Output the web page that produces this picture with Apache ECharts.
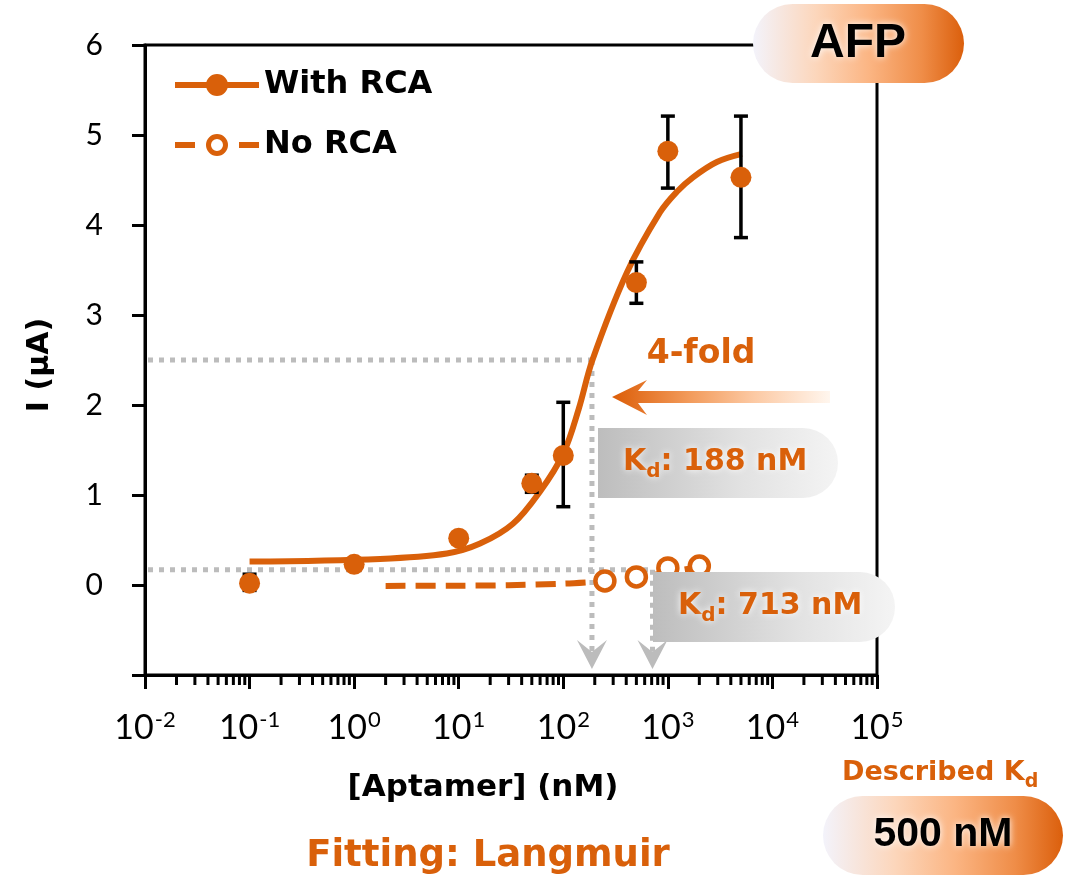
<!DOCTYPE html>
<html><head><meta charset="utf-8">
<script src="https://cdn.jsdelivr.net/npm/echarts@6/dist/echarts.min.js"></script>
<style>html,body{margin:0;padding:0;background:#fff}#c{width:1068px;height:879px}</style>
</head><body><div id="c"></div>
<script>
const ORANGE = '#d9600a';
const GREY = '#bcbcbc';
const TXT = 'DejaVu Sans';

// axis ticks
const xTickExponents = [-2, -1, 0, 1, 2, 3, 4, 5];
const yTickLabels = [0, 1, 2, 3, 4, 5, 6];

// With RCA measured points (nM, µA) and error bars
const withRcaConc = [0.1, 1, 10, 50, 100, 500, 1000, 5000];
const withRcaCurrent = [0.02, 0.23, 0.52, 1.13, 1.44, 3.36, 4.82, 4.53];
const errConc = [0.1, 50, 100, 500, 1000, 5000];
const errLow = [-0.06, 1.03, 0.87, 3.13, 4.41, 3.86];
const errHigh = [0.12, 1.22, 2.03, 3.59, 5.21, 5.21];

// No RCA measured points
const noRcaConc = [250, 500, 1000, 2000];
const noRcaCurrent = [0.045, 0.09, 0.19, 0.21];

// Langmuir fit curves
const withFitConc = [0.1, 1.77, 7.7, 16, 33, 60, 100, 140, 190, 405, 840, 1220, 1740, 2940, 5100];
const withFitCurrent = [0.26, 0.29, 0.35, 0.46, 0.68, 1.04, 1.46, 1.95, 2.50, 3.47, 4.14, 4.37, 4.53, 4.70, 4.79];
const noFitConc = [2, 10, 30, 100, 200, 300, 500, 1000, 2000];
const noFitCurrent = [-0.01, -0.008, -0.002, 0.015, 0.035, 0.05, 0.08, 0.14, 0.2];

// Kd guides
const kdValues = [188, 713];
const kdLevels = [2.5, 0.17];

// minor ticks of the log axis (2..9 per decade)
const minorTicks = [];
for (let e = -2; e < 5; e++) for (let m = 2; m <= 9; m++) minorTicks.push([m * Math.pow(10, e), -1]);

const zip = (a, b) => a.map((v, i) => [v, b[i]]);

// legend icons (84 x 22 box): line + filled circle / dashes + ring
const ICON_WITH = 'path://M0,8 L84,8 L84,14 L0,14 Z M31,11 a11,11 0 1,1 22,0 a11,11 0 1,1 -22,0 Z';
const ICON_NO = 'path://M0,8 L20,8 L20,14 L0,14 Z M64,8 L84,8 L84,14 L64,14 Z ' +
  'M31,11 a11,11 0 1,1 22,0 a11,11 0 1,1 -22,0 Z M36,11 a6,6 0 1,0 12,0 a6,6 0 1,0 -12,0 Z';

const chart = echarts.init(document.getElementById('c'));
const grad = (stops) => ({type: 'linear', x: 0, y: 0, x2: 1, y2: 0, colorStops: stops.map(s => ({offset: s[0], color: s[1]}))});
const pillGrad = grad([[0, '#f3f3fb'], [0.3, '#fcd6bb'], [0.55, '#fbb583'], [0.8, '#ef8d48'], [1, '#db5f0c']]);
const boxGrad = grad([[0, '#bdbdbd'], [0.6, '#e2e2e2'], [1, '#f4f4f4']]);
const glowW = {textShadowColor: 'rgba(255,255,255,1)', textShadowBlur: 7};

chart.setOption({
  animation: false,
  backgroundColor: '#fff',
  grid: {left: 145, top: 45, width: 732, height: 630, show: true, borderColor: '#000', borderWidth: 3,
         backgroundColor: 'transparent', containLabel: false, outerBoundsMode: 'none'},
  legend: {
    left: 170, top: 61, orient: 'vertical', itemWidth: 84, itemHeight: 22, itemGap: 22,
    data: [
      {name: 'With RCA', icon: ICON_WITH, itemStyle: {color: ORANGE, borderWidth: 0}},
      {name: 'No RCA', icon: ICON_NO, itemStyle: {color: ORANGE, borderWidth: 0}}
    ],
    itemStyle: {color: ORANGE, borderWidth: 0},
    textStyle: {fontFamily: TXT, fontWeight: 'bold', fontSize: 32, color: '#000', lineHeight: 38, padding: [0, 0, 0, 0]}
  },
  xAxis: {
    type: 'log', logBase: 10, min: 0.01, max: 100000, splitNumber: 7,
    axisLine: {onZero: false, lineStyle: {color: '#000', width: 3}},
    axisTick: {inside: false, length: 14, lineStyle: {color: '#000', width: 3}},
    splitLine: {show: false}, minorTick: {show: false},
    axisLabel: {
      margin: 34, color: '#000',
      formatter: v => {
        const e = Math.round(Math.log10(v));
        return xTickExponents.indexOf(e) >= 0 ? '{b|10}{s|' + e + '}' : '';
      },
      rich: {
        b: {fontFamily: 'Lato', fontSize: 34, color: '#000', lineHeight: 36, verticalAlign: 'bottom'},
        s: {fontFamily: 'Lato', fontSize: 22, color: '#000', lineHeight: 36, verticalAlign: 'top', padding: [0, 0, 14, 1]}
      }
    }
  },
  yAxis: {
    type: 'value', min: -1, max: 6, interval: 1,
    axisLine: {onZero: false, lineStyle: {color: '#000', width: 3}},
    axisTick: {inside: false, length: 13, lineStyle: {color: '#000', width: 3}},
    splitLine: {show: false},
    axisLabel: {margin: 42, color: '#000', fontFamily: 'Lato', fontSize: 30,
      formatter: v => yTickLabels.indexOf(v) >= 0 ? String(v) : ''}
  },
  series: [
    {
      type: 'custom', name: 'minor', silent: true, z: 1, clip: false,
      data: minorTicks,
      renderItem: (params, api) => {
        const p = api.coord([api.value(0), -1]);
        return {type: 'line', shape: {x1: p[0], y1: p[1], x2: p[0], y2: p[1] + 10},
                style: {stroke: '#000', lineWidth: 3}};
      }
    },
    {
      type: 'custom', name: 'guides', silent: true, z: 1, clip: false,
      data: zip(kdValues, kdLevels),
      renderItem: (params, api) => {
        const kd = api.value(0), lv = api.value(1);
        const a = api.coord([0.01, lv]);
        const b = api.coord([kd, lv]);
        const bot = api.coord([kd, -1]);
        const tip = bot[1] - 6, top = tip - 29, notch = top + 12, x = b[0];
        const ls = {stroke: GREY, lineWidth: 5, lineDash: [5, 6]};
        return {type: 'group', children: [
          {type: 'line', shape: {x1: a[0] + 3, y1: a[1], x2: b[0], y2: b[1]}, style: ls},
          {type: 'line', shape: {x1: x, y1: b[1], x2: x, y2: notch}, style: ls},
          {type: 'polygon', shape: {points: [[x - 15, top], [x, notch], [x + 15, top], [x, tip]]}, style: {fill: GREY}}
        ]};
      }
    },
    {
      type: 'line', name: 'No RCA', data: zip(noFitConc, noFitCurrent), smooth: 0.3, z: 3,
      symbol: 'circle', showSymbol: false,
      lineStyle: {color: ORANGE, width: 6, type: [20, 10]},
      itemStyle: {color: ORANGE}
    },
    {
      type: 'line', name: 'With RCA', data: zip(withFitConc, withFitCurrent), smooth: 0.35, z: 3,
      symbol: 'circle', showSymbol: false,
      lineStyle: {color: ORANGE, width: 6},
      itemStyle: {color: ORANGE}
    },
    {
      type: 'custom', name: 'err', silent: true, z: 4,
      data: errConc.map((c, i) => [c, errLow[i], errHigh[i]]),
      renderItem: (params, api) => {
        const lo = api.coord([api.value(0), api.value(1)]);
        const hi = api.coord([api.value(0), api.value(2)]);
        const s = {stroke: '#000', lineWidth: 3.5};
        return {type: 'group', children: [
          {type: 'line', shape: {x1: lo[0], y1: lo[1], x2: hi[0], y2: hi[1]}, style: s},
          {type: 'line', shape: {x1: lo[0] - 7, y1: lo[1], x2: lo[0] + 7, y2: lo[1]}, style: s},
          {type: 'line', shape: {x1: hi[0] - 7, y1: hi[1], x2: hi[0] + 7, y2: hi[1]}, style: s}
        ]};
      }
    },
    {
      type: 'scatter', name: 'With RCA pts', data: zip(withRcaConc, withRcaCurrent), z: 5,
      symbol: 'circle', symbolSize: 21, itemStyle: {color: ORANGE, opacity: 1}
    },
    {
      type: 'scatter', name: 'No RCA pts', data: zip(noRcaConc, noRcaCurrent), z: 5,
      symbol: 'circle', symbolSize: 19, itemStyle: {color: '#fff', borderColor: ORANGE, borderWidth: 4.5, opacity: 1}
    }
  ],
  graphic: [
    // AFP pill
    {type: 'rect', z: 100, shape: {x: 753, y: 4, width: 211, height: 79, r: 39.5}, style: {fill: pillGrad}},
    {type: 'text', z: 101, x: 858, y: 44, style: Object.assign({text: 'AFP', fill: '#000', font: 'bold 48px "Liberation Sans"', align: 'center', verticalAlign: 'middle'}, glowW)},
    // Kd boxes
    {type: 'rect', z: 100, shape: {x: 598, y: 428, width: 240, height: 70, r: [0, 35, 35, 0]}, style: {fill: boxGrad}},
    {type: 'text', z: 101, x: 623, y: 462, style: Object.assign({
      text: '{k|K}{d|d}{k|: 188 nM}', align: 'left', verticalAlign: 'middle',
      rich: {k: {fill: ORANGE, fontFamily: TXT, fontWeight: 'bold', fontSize: 30, lineHeight: 40},
             d: {fill: ORANGE, fontFamily: TXT, fontWeight: 'bold', fontSize: 20, lineHeight: 20, verticalAlign: 'bottom'}}
    }, glowW)},
    {type: 'rect', z: 100, shape: {x: 653, y: 572, width: 242, height: 70, r: [0, 35, 35, 0]}, style: {fill: boxGrad}},
    {type: 'text', z: 101, x: 678, y: 606, style: Object.assign({
      text: '{k|K}{d|d}{k|: 713 nM}', align: 'left', verticalAlign: 'middle',
      rich: {k: {fill: ORANGE, fontFamily: TXT, fontWeight: 'bold', fontSize: 30, lineHeight: 40},
             d: {fill: ORANGE, fontFamily: TXT, fontWeight: 'bold', fontSize: 20, lineHeight: 20, verticalAlign: 'bottom'}}
    }, glowW)},
    // 4-fold
    {type: 'text', z: 101, x: 701, y: 354, style: {text: '4-fold', fill: ORANGE, font: 'bold 33px "DejaVu Sans"', align: 'center', verticalAlign: 'middle'}},
    {type: 'polygon', z: 101, shape: {points: [[612, 397], [647, 380], [638, 391], [830, 391], [830, 403], [638, 403], [647, 415]]},
     style: {fill: grad([[0, '#dc5d07'], [0.35, '#f29a5a'], [0.65, '#fcc9a3'], [1, '#fff6ee']])}},
    // Described Kd
    {type: 'text', z: 101, x: 842, y: 773, style: {
      text: '{k|Described K}{d|d}', align: 'left', verticalAlign: 'middle',
      rich: {k: {fill: ORANGE, fontFamily: TXT, fontWeight: 'bold', fontSize: 27, lineHeight: 38},
             d: {fill: ORANGE, fontFamily: TXT, fontWeight: 'bold', fontSize: 19, lineHeight: 19, verticalAlign: 'bottom'}}}},
    {type: 'rect', z: 100, shape: {x: 823, y: 796, width: 240, height: 79, r: 39.5}, style: {fill: pillGrad}},
    {type: 'text', z: 101, x: 943, y: 835, style: Object.assign({text: '500 nM', fill: '#000', font: 'bold 41px "Liberation Sans"', align: 'center', verticalAlign: 'middle'}, glowW)},
    // axis titles
    {type: 'text', z: 101, x: 483, y: 788, style: {text: '[Aptamer] (nM)', fill: '#000', font: 'bold 31px "DejaVu Sans"', align: 'center', verticalAlign: 'middle'}},
    {type: 'text', z: 101, x: 40, y: 365, rotation: Math.PI / 2, style: {text: 'I (μA)', fill: '#000', font: 'bold 30px "DejaVu Sans"', align: 'center', verticalAlign: 'middle'}},
    {type: 'text', z: 101, x: 488, y: 856, style: {text: 'Fitting: Langmuir', fill: ORANGE, font: 'bold 37px "DejaVu Sans"', align: 'center', verticalAlign: 'middle'}}
  ]
});
</script></body></html>
